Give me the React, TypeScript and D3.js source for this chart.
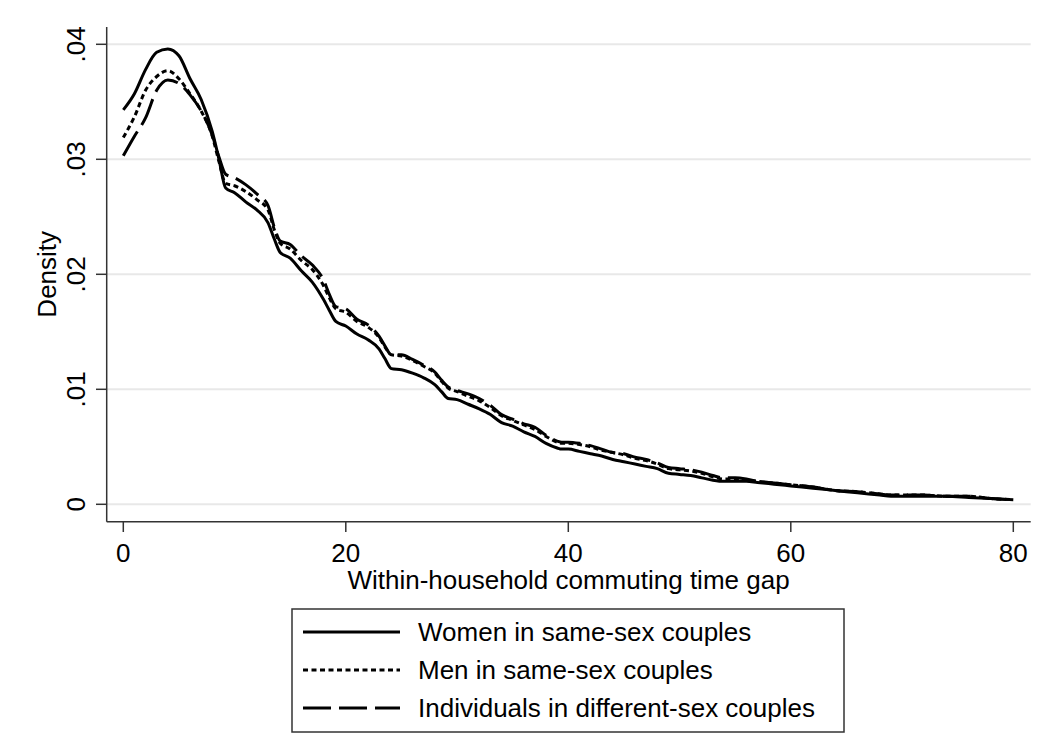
import React from "react";
import * as d3 from "d3";

const gapX = [0, 1, 2, 3, 4, 5, 6, 7, 8, 8.6, 9.2, 10, 11, 12, 13, 13.6, 14.1, 15, 16, 17, 18, 18.5, 19.1, 20, 21, 22, 23, 23.5, 24.1, 25, 26, 27, 28, 28.6, 29.2, 30, 31, 32, 33, 34, 35, 36, 37, 38, 39, 39.4, 40, 41, 42, 43, 44, 45, 46, 47, 48, 49, 50, 51, 52, 53, 54, 55, 56, 57, 58, 59, 60, 62, 64, 66, 68, 69, 70, 72, 74, 76, 78, 80];

const women = [0.0343, 0.0357, 0.0378, 0.0393, 0.0396, 0.0390, 0.0370, 0.0352, 0.0324, 0.0300, 0.0275, 0.0271, 0.0263, 0.0256, 0.0245, 0.0230, 0.0219, 0.0214, 0.0203, 0.0193, 0.0178, 0.0169, 0.0159, 0.0155, 0.0148, 0.0143, 0.0135, 0.0127, 0.0118, 0.0117, 0.0114, 0.0110, 0.0104, 0.0098, 0.0092, 0.0091, 0.0087, 0.0083, 0.0078, 0.0071, 0.0068, 0.0063, 0.0059, 0.0053, 0.0049, 0.0048, 0.0048, 0.0046, 0.0044, 0.0042, 0.0039, 0.0037, 0.0035, 0.0033, 0.0031, 0.0027, 0.0026, 0.0025, 0.0023, 0.0021, 0.0020, 0.0020, 0.0020, 0.0019, 0.0018, 0.0017, 0.0016, 0.0014, 0.0012, 0.0010, 0.0008, 0.0007, 0.0007, 0.0007, 0.0007, 0.0006, 0.0005, 0.0004];

const men = [0.0319, 0.0337, 0.0360, 0.0372, 0.0377, 0.0370, 0.0357, 0.0342, 0.0320, 0.0298, 0.0279, 0.0277, 0.0272, 0.0265, 0.0256, 0.0238, 0.0227, 0.0222, 0.0212, 0.0204, 0.0190, 0.0180, 0.0170, 0.0167, 0.0159, 0.0154, 0.0145, 0.0137, 0.0130, 0.0129, 0.0125, 0.0120, 0.0114, 0.0107, 0.0101, 0.0098, 0.0094, 0.0090, 0.0084, 0.0077, 0.0073, 0.0069, 0.0065, 0.0059, 0.0054, 0.0053, 0.0053, 0.0052, 0.0050, 0.0047, 0.0045, 0.0043, 0.0040, 0.0038, 0.0035, 0.0031, 0.0030, 0.0029, 0.0027, 0.0024, 0.0022, 0.0022, 0.0021, 0.0020, 0.0019, 0.0018, 0.0017, 0.0015, 0.0012, 0.0011, 0.0009, 0.0008, 0.0008, 0.0008, 0.0007, 0.0007, 0.0005, 0.0004];

const different = [0.0303, 0.0320, 0.0336, 0.0360, 0.0369, 0.0366, 0.0356, 0.0342, 0.0321, 0.0302, 0.0287, 0.0284, 0.0278, 0.0270, 0.0260, 0.0240, 0.0229, 0.0226, 0.0216, 0.0208, 0.0195, 0.0183, 0.0172, 0.0170, 0.0161, 0.0156, 0.0146, 0.0138, 0.0130, 0.0130, 0.0126, 0.0121, 0.0115, 0.0108, 0.0102, 0.0099, 0.0096, 0.0092, 0.0086, 0.0078, 0.0074, 0.0070, 0.0067, 0.0060, 0.0055, 0.0054, 0.0054, 0.0053, 0.0051, 0.0048, 0.0045, 0.0044, 0.0041, 0.0039, 0.0036, 0.0032, 0.0031, 0.0030, 0.0028, 0.0025, 0.0023, 0.0023, 0.0022, 0.0020, 0.0019, 0.0018, 0.0017, 0.0015, 0.0012, 0.0011, 0.0009, 0.0008, 0.0008, 0.0008, 0.0007, 0.0007, 0.0005, 0.0004];

const xTicks = [0, 20, 40, 60, 80];
const yTicks = [0, 0.01, 0.02, 0.03, 0.04];
const yTickLabels = ["0", ".01", ".02", ".03", ".04"];
const seriesNames = ["Women in same-sex couples", "Men in same-sex couples", "Individuals in different-sex couples"];
const seriesDash = ["none", "5,3.5", "28,8"];

const W = 1061;
const H = 740;
const FONT = "'Liberation Sans', Arial, Helvetica, sans-serif";

export default function App() {
  const plotLeft = 106.7;
  const plotRight = 1030.7;
  const plotTop = 27;
  const plotBottom = 521.7;
  const x = d3.scaleLinear().domain([0, 80]).range([123.3, 1013.3]);
  const y = d3.scaleLinear().domain([0, 0.04]).range([504.3, 44.3]);

  const series = [women, men, different];
  const line = d3
    .line<[number, number]>()
    .x((d) => x(d[0]))
    .y((d) => y(d[1]))
    .curve(d3.curveMonotoneX);

  const legX0 = 292;
  const legY0 = 609;
  const legRows = [632, 670, 708];

  return (
    <svg
      width={W}
      height={H}
      style={{ position: "absolute", left: 0, top: 0, background: "#fff" }}
      fontFamily={FONT}
    >
      <rect x={0} y={0} width={W} height={H} fill="#fff" />
      {yTicks.map((t, i) => (
        <g key={"y" + i}>
          <line x1={plotLeft} x2={plotRight} y1={y(t)} y2={y(t)} stroke="#e8e8e8" strokeWidth={2} />
          <line x1={96} x2={plotLeft} y1={y(t)} y2={y(t)} stroke="#333" strokeWidth={1.5} />
          <text
            transform={`translate(85,${y(t)}) rotate(-90)`}
            textAnchor="middle"
            fontSize={26}
            fill="#000"
          >
            {yTickLabels[i]}
          </text>
        </g>
      ))}
      <line x1={plotLeft} x2={plotLeft} y1={plotTop} y2={plotBottom} stroke="#333" strokeWidth={1.5} />
      <line x1={plotLeft} x2={plotRight} y1={plotBottom} y2={plotBottom} stroke="#333" strokeWidth={1.5} />
      {xTicks.map((t) => (
        <g key={"x" + t}>
          <line x1={x(t)} x2={x(t)} y1={plotBottom} y2={532} stroke="#333" strokeWidth={1.5} />
          <text x={x(t)} y={561.5} textAnchor="middle" fontSize={26} fill="#000">
            {t}
          </text>
        </g>
      ))}
      <text x={568.5} y={589} textAnchor="middle" fontSize={26} fill="#000">
        Within-household commuting time gap
      </text>
      <text transform={`translate(56,274.3) rotate(-90)`} textAnchor="middle" fontSize={26} fill="#000">
        Density
      </text>
      {series.map((vals, i) => (
        <path
          key={"s" + i}
          d={line(gapX.map((g, j) => [g, vals[j]] as [number, number])) || ""}
          fill="none"
          stroke="#000"
          strokeWidth={3}
          strokeDasharray={seriesDash[i]}
          strokeLinejoin="round"
        />
      ))}
      <rect x={legX0} y={legY0} width={844 - legX0} height={732 - legY0} fill="#fff" stroke="#333" strokeWidth={1.5} />
      {seriesNames.map((name, i) => (
        <g key={"l" + i}>
          <line x1={303} x2={400} y1={legRows[i]} y2={legRows[i]} stroke="#000" strokeWidth={3} strokeDasharray={seriesDash[i]} />
          <text x={418} y={legRows[i] + 9} fontSize={26} fill="#000">
            {name}
          </text>
        </g>
      ))}
    </svg>
  );
}
